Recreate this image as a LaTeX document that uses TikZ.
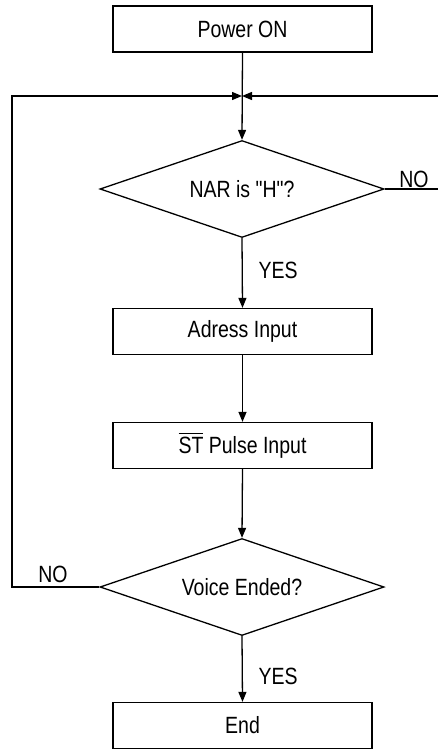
\documentclass[tikz,border=0pt]{standalone}
\usepackage{fontspec}
\setmainfont{Liberation Sans}[FakeStretch=0.83,Ligatures=TeXOff]
\usetikzlibrary{shapes.geometric,arrows.meta}
\newcommand\myover[1]{\leavevmode\vbox{\hrule height 1.3pt\kern2.5pt\hbox{#1}}}
\begin{document}
\begin{tikzpicture}[x=1pt,y=-1pt,
  line width=1.3pt,
  txt/.style={font=\fontsize{23.5}{27}\selectfont},
  box/.style={txt,draw,rectangle,minimum width=259pt,minimum height=46pt,inner sep=0pt},
  dec/.style={txt,draw,diamond,minimum width=284pt,minimum height=97pt,inner sep=0pt,shape aspect=2.9},
  lbl/.style={txt,inner sep=0pt},
  arr/.style={-{Triangle[length=10pt,width=8pt]}}]
\useasboundingbox (0,0) rectangle (438,749);
\node[box] (p) at (242.5,29) {Power ON};
\node[dec] (d1) at (242,189) {NAR is "H"?};
\node[box] (a) at (242.5,331.5) {Adress Input};
\node[box] (s) at (242.5,445.5) {\myover{ST} Pulse Input};
\node[dec] (d2) at (242,587) {Voice Ended?};
\node[box] (e) at (242.5,725.5) {End};
\coordinate (j) at (242,96);
\coordinate (l1) at (12,96);
\coordinate (l2) at (12,587);
\coordinate (r1) at (438,96);
\coordinate (r2) at (438,189);
\draw[arr] (p.south) -- (d1.north);
\draw[arr] (d1.south) -- (a.north);
\draw[arr] (a.south) -- (s.north);
\draw[arr] (s.south) -- (d2.north);
\draw[arr] (d2.south) -- (e.north);
\draw[arr] (d2.west) -- (l2) -- (l1) -- (j);
\draw[arr] (r1) -- (j);
\draw (d1.east) -- (r2);
\node[lbl,anchor=west] (y1) at (258,270) {YES};
\node[lbl,anchor=west] (y2) at (258,676) {YES};
\node[lbl] (n1) at (414,179) {NO};
\node[lbl] (n2) at (53,574) {NO};
\end{tikzpicture}
\end{document}
